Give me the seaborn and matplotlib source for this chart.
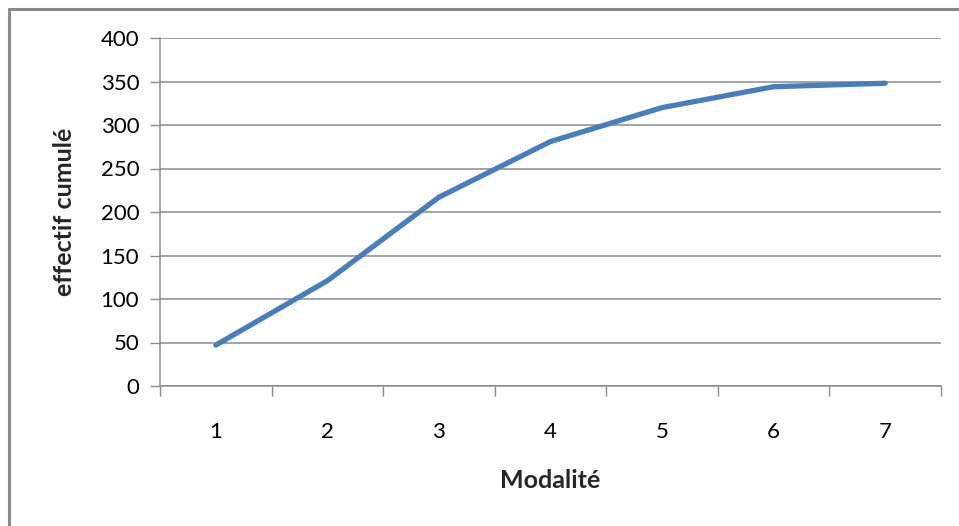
import matplotlib
matplotlib.use("Agg")
import matplotlib.pyplot as plt
from matplotlib.lines import Line2D
from matplotlib.ticker import FixedLocator
import pandas as pd
import seaborn as sns

# Cumulative counts per modality
modalites = [1, 2, 3, 4, 5, 6, 7]
effectif_cumule = [47, 121, 217, 281, 320, 344, 348]
y_ticks = [0, 50, 100, 150, 200, 250, 300, 350, 400]

df = pd.DataFrame({"Modalité": modalites, "effectif cumulé": effectif_cumule})

sns.set_theme(style="white")
plt.rcParams["font.family"] = ["Lato", "DejaVu Sans"]

fig = plt.figure(figsize=(9.59, 5.26), dpi=100)
ax = fig.add_axes([160 / 959, 140 / 526, (941 - 160) / 959, (386 - 38) / 526])

grid_col = "#8c8c8c"

sns.lineplot(data=df, x="Modalité", y="effectif cumulé", ax=ax,
             color="#4a7ebb", linewidth=3.8, solid_capstyle="round",
             solid_joinstyle="round", zorder=3)

ax.set_xlim(0.5, 7.5)
ax.set_ylim(0, 400)
ax.set_yticks(y_ticks)
ax.set_yticklabels([str(v) for v in y_ticks])
ax.yaxis.grid(True, color=grid_col, linewidth=1.1)
ax.set_axisbelow(True)

# Category labels centred, tick marks on category boundaries
ax.set_xticks(modalites)
ax.set_xticklabels([str(m) for m in modalites])
ax.xaxis.set_minor_locator(FixedLocator([m + 0.5 for m in [0] + modalites]))
ax.tick_params(axis="x", which="major", length=0, pad=26, labelsize=16, colors="black")
ax.tick_params(axis="x", which="minor", length=7, width=1, color=grid_col, direction="out", bottom=True)
ax.tick_params(axis="y", which="major", length=7, width=1, color=grid_col, direction="out",
               left=True, pad=8, labelsize=16, labelcolor="black")

for side in ["top", "right"]:
    ax.spines[side].set_visible(False)
for side in ["left", "bottom"]:
    ax.spines[side].set_color(grid_col)
    ax.spines[side].set_linewidth(1.1)

ax.set_xlabel("Modalité", fontsize=18, fontweight="bold", labelpad=19)
ax.set_ylabel("effectif cumulé", fontsize=18, fontweight="bold", labelpad=18)

# Outer chart frame
frame_col = "#8a8a8a"
fig.add_artist(Line2D([9 / 959, 9 / 959], [0, 1 - 9 / 526], transform=fig.transFigure,
                      color=frame_col, linewidth=2.2))
fig.add_artist(Line2D([9 / 959, 1], [1 - 9 / 526, 1 - 9 / 526], transform=fig.transFigure,
                      color=frame_col, linewidth=2.2))

fig.savefig("out.png", dpi=100, facecolor="white")
